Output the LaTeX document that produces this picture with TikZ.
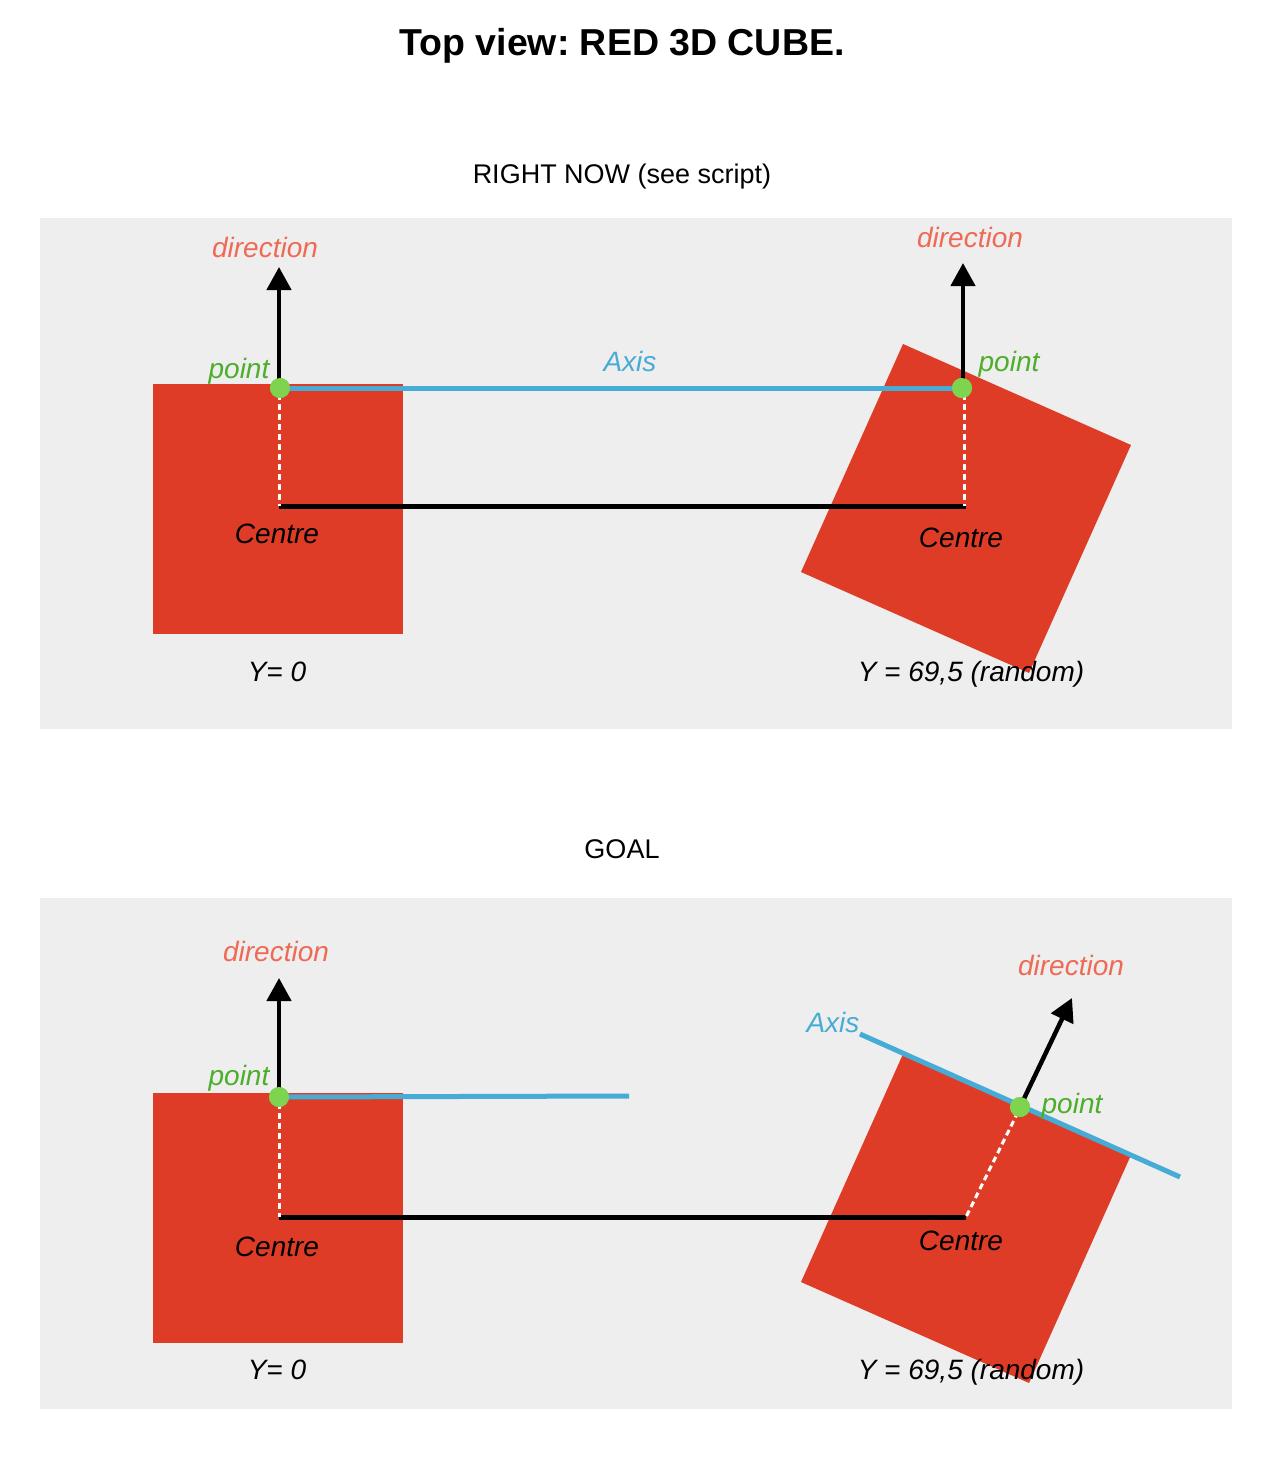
\documentclass[tikz,border=0pt]{standalone}
\usepackage{fontspec}
\setmainfont{Liberation Sans}
\usetikzlibrary{arrows.meta}
\definecolor{panelgray}{HTML}{EEEEEE}
\definecolor{cubered}{HTML}{DE3C26}
\definecolor{axisblue}{HTML}{47ACD5}
\definecolor{dotgreen}{HTML}{7ED44F}
\definecolor{ptgreen}{HTML}{4DAE2C}
\definecolor{dirsalmon}{HTML}{EE6A55}
\frenchspacing
\tikzset{
  panel/.style={fill=panelgray, draw=none},
  cube/.style={fill=cubered, draw=none},
  axisline/.style={draw=axisblue, line width=5pt},
  centreline/.style={draw=black, line width=5pt},
  dirarrow/.style={draw=black, line width=4.5pt, -{Triangle[length=23pt,width=24pt]}},
  whitedash/.style={draw=white, line width=3pt, dash pattern=on 6pt off 4pt},
  ptdot/.style={circle, fill=dotgreen, draw=none, minimum size=20pt, inner sep=0pt},
  lbl/.style={anchor=base, inner sep=0pt, font=\fontsize{28}{32}\selectfont\itshape},
  dirlbl/.style={lbl, text=dirsalmon},
  ptlbl/.style={lbl, text=ptgreen},
  axlbl/.style={lbl, text=axisblue},
  blacklbl/.style={lbl, text=black},
  heading/.style={anchor=base, inner sep=0pt, font=\fontsize{27}{31}\selectfont},
}
\begin{document}
\begin{tikzpicture}[x=1pt, y=-1pt]
\useasboundingbox[fill=white] (0,0) rectangle (1278,1470);
% title
\node[anchor=base, inner sep=0pt, font=\fontsize{37.5}{42}\selectfont\bfseries] (title) at (622,55) {Top view: RED 3D CUBE.};
\node[heading] (h1) at (622,183) {RIGHT NOW (see script)};
\node[heading] (h2) at (622,858) {GOAL};
% panels
\fill[panel] (40,218) rectangle (1232,729);
\fill[panel] (40,898) rectangle (1232,1409);

% ===== TOP PANEL =====
\fill[cube] (153,384) rectangle (403,634);
\fill[cube] (903,344) -- (1131,445) -- (1029,673) -- (801,572) -- cycle;
\coordinate (c1) at (279,506);
\coordinate (c2) at (964,506);
\coordinate (d1) at (279,267);
\coordinate (d2) at (963,263);
\node[ptdot] (p1) at (280,388) {};
\node[ptdot] (p2) at (962,388) {};
\draw[axisline] (p1.center) -- (p2.center);
\draw[centreline] (c1) -- ([xshift=2pt]c2);
\draw[whitedash] (279,394) -- (c1);
\draw[whitedash] (964,394) -- (c2);
\draw[dirarrow] (279,388) -- (d1);
\draw[dirarrow] (963,388) -- (d2);
\node[ptdot] at (280,388) {};
\node[ptdot] at (962,388) {};
\node[dirlbl] (dl1) at (265,257) {direction};
\node[dirlbl] (dl2) at (970,247) {direction};
\node[ptlbl] (pl1) at (239,378) {point};
\node[ptlbl] (pl2) at (1009,371) {point};
\node[axlbl] (al1) at (630,371) {Axis};
\node[blacklbl] (cl1) at (277,543) {Centre};
\node[blacklbl] (cl2) at (961,547) {Centre};
\node[blacklbl] (yl1) at (277,681) {Y= 0};
\node[blacklbl] (yl2) at (971,681) {Y = 69,5 (random)};

% ===== BOTTOM PANEL =====
\fill[cube] (153,1093) rectangle (403,1343);
\fill[cube] (903,1054) -- (1131,1155) -- (1029,1383) -- (801,1282) -- cycle;
\coordinate (c3) at (279,1217);
\coordinate (c4) at (966,1217);
\coordinate (d3) at (279,978);
\coordinate (d4) at (1072,998);
\coordinate (a3) at (629,1096);
\coordinate (a4s) at (860,1034);
\coordinate (a4e) at (1180,1177);
\node[ptdot] (p3) at (279,1097) {};
\node[ptdot] (p4) at (1020,1107) {};
\draw[axisline] (p3.center) -- (a3);
\draw[axisline] (a4s) -- (a4e);
\draw[centreline] (c3) -- (c4);
\draw[whitedash] (279,1103) -- (c3);
\draw[whitedash] (1018,1112) -- (c4);
\draw[dirarrow] (p3.center) -- (d3);
\draw[dirarrow] (p4.center) -- (d4);
\node[ptdot] at (279,1097) {};
\node[ptdot] at (1020,1107) {};
\node[dirlbl] (dl3) at (276,961) {direction};
\node[dirlbl] (dl4) at (1071,975) {direction};
\node[ptlbl] (pl3) at (239,1085) {point};
\node[ptlbl] (pl4) at (1072,1113) {point};
\node[axlbl] (al4) at (833,1032) {Axis};
\node[blacklbl] (cl3) at (277,1256) {Centre};
\node[blacklbl] (cl4) at (961,1250) {Centre};
\node[blacklbl] (yl3) at (277,1379) {Y= 0};
\node[blacklbl] (yl4) at (971,1379) {Y = 69,5 (random)};
\end{tikzpicture}
\end{document}
